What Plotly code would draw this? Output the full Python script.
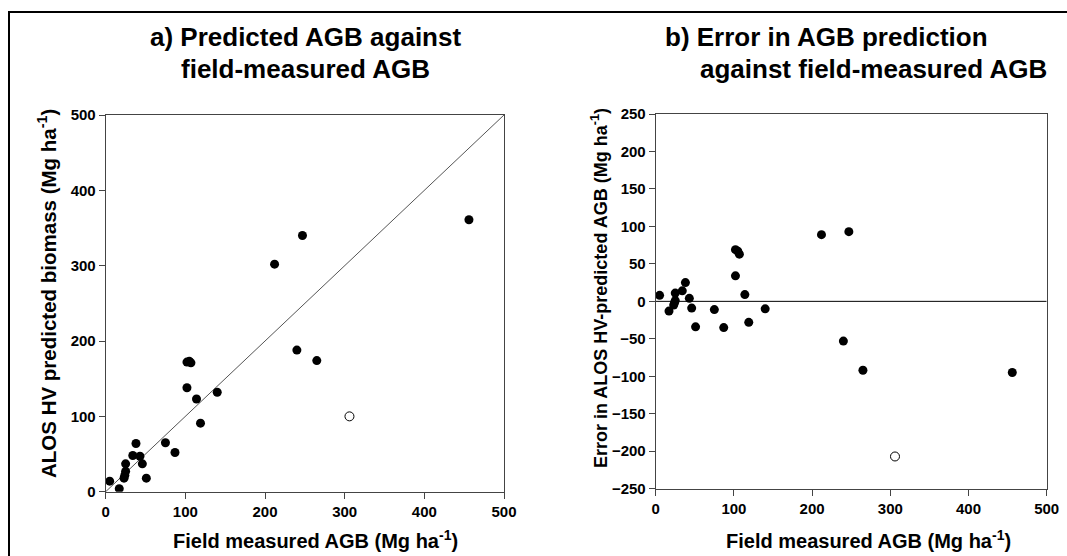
import plotly.graph_objects as go

# field-measured AGB (Mg/ha)
measured = [5, 17, 23, 24, 25, 25, 34, 38, 43, 46, 51, 75, 87, 102, 105, 107,
            102, 114, 119, 140, 212, 240, 247, 265, 456]
# ALOS HV predicted AGB
predicted = [14, 4, 18, 22, 27, 37, 48, 64, 47, 37, 18, 65, 52, 172, 173, 171,
             138, 123, 91, 132, 302, 188, 340, 174, 361]
# prediction error as plotted in panel b
error = [8, -13, -5, -2, 1, 11, 14, 25, 4, -9, -34, -11, -35, 69, 67, 63,
         34, 9, -28, -10, 89, -53, 93, -92, -95]

# the single outlier (open circle)
out_measured = [306]
out_predicted = [100]
out_error = [-207]

one_to_one = [0, 500]
zero_line_x = [0, 500]
zero_line_y = [0, 0]

FONT = "Liberation Sans, Arial, sans-serif"
W, H = 1067, 556


def px(x):
    return x / W


def py(y):
    return 1 - y / H


fig = go.Figure()

filled = dict(color="black", size=9, line=dict(color="black", width=0))
hollow = dict(color="white", size=9, line=dict(color="black", width=1))

# panel a
fig.add_trace(go.Scatter(x=one_to_one, y=one_to_one, mode="lines",
                         line=dict(color="#555555", width=1), xaxis="x", yaxis="y"))
fig.add_trace(go.Scatter(x=measured, y=predicted, mode="markers", marker=filled,
                         xaxis="x", yaxis="y"))
fig.add_trace(go.Scatter(x=out_measured, y=out_predicted, mode="markers", marker=hollow,
                         xaxis="x", yaxis="y"))

# panel b
fig.add_trace(go.Scatter(x=zero_line_x, y=zero_line_y, mode="lines",
                         line=dict(color="black", width=1), xaxis="x2", yaxis="y2"))
fig.add_trace(go.Scatter(x=measured, y=error, mode="markers", marker=filled,
                         xaxis="x2", yaxis="y2"))
fig.add_trace(go.Scatter(x=out_measured, y=out_error, mode="markers", marker=hollow,
                         xaxis="x2", yaxis="y2"))

axis_style = dict(
    showgrid=False, zeroline=False, showline=True, mirror=True, automargin=False,
    linecolor="#444444", linewidth=1,
    ticks="outside", ticklen=6, tickcolor="#444444",
    tickfont=dict(family=FONT, size=15, color="black", weight="bold"),
)

fig.update_layout(
    template="none",
    width=W, height=H,
    margin=dict(l=0, r=0, t=0, b=0, pad=0, autoexpand=False),
    paper_bgcolor="white", plot_bgcolor="white",
    showlegend=False,
    xaxis=dict(domain=[px(105.7), px(504)], range=[0, 500], dtick=100,
               anchor="y", **axis_style),
    yaxis=dict(domain=[py(491.7), py(115)], range=[0, 500], dtick=100,
               anchor="x", **axis_style),
    xaxis2=dict(domain=[px(655.7), px(1046.7)], range=[0, 500], dtick=100,
                anchor="y2", **axis_style),
    yaxis2=dict(domain=[py(488.7), py(114)], range=[-250, 250], dtick=50,
                anchor="x2", **axis_style),
)


def txt(text, x, y, size, angle=0):
    fig.add_annotation(text=text, x=px(x), y=py(y), xref="paper", yref="paper",
                       showarrow=False, textangle=angle, xanchor="center", yanchor="middle",
                       font=dict(family=FONT, size=size, color="black", weight="bold"))


# panel titles
txt("a) Predicted AGB against", 305, 37, 26)
txt("field-measured AGB", 305, 69, 26)
txt("b) Error in AGB prediction", 826, 37, 26)
txt("against field-measured AGB", 873, 69, 26)

# axis titles
txt("Field measured AGB (Mg ha<sup>-1</sup>)", 315, 539, 20)
txt("Field measured AGB (Mg ha<sup>-1</sup>)", 868, 539, 20)
txt("ALOS HV predicted biomass (Mg ha<sup>-1</sup>)", 47, 294, 20.5, -90)
txt("Error in ALOS HV-predicted AGB (Mg ha<sup>-1</sup>)", 599, 288, 18, -90)

# outer frame around the whole figure
fig.add_shape(type="rect", xref="paper", yref="paper",
              x0=px(9), x1=1.05, y0=-0.05, y1=py(12),
              line=dict(color="black", width=2))

# drop the default page margin so the 1067x556 figure fills the window
fig.write_html("out.html",
               config={"displayModeBar": False},
               post_script="document.body.style.margin='0px';"
                           "document.body.style.overflow='hidden';")
